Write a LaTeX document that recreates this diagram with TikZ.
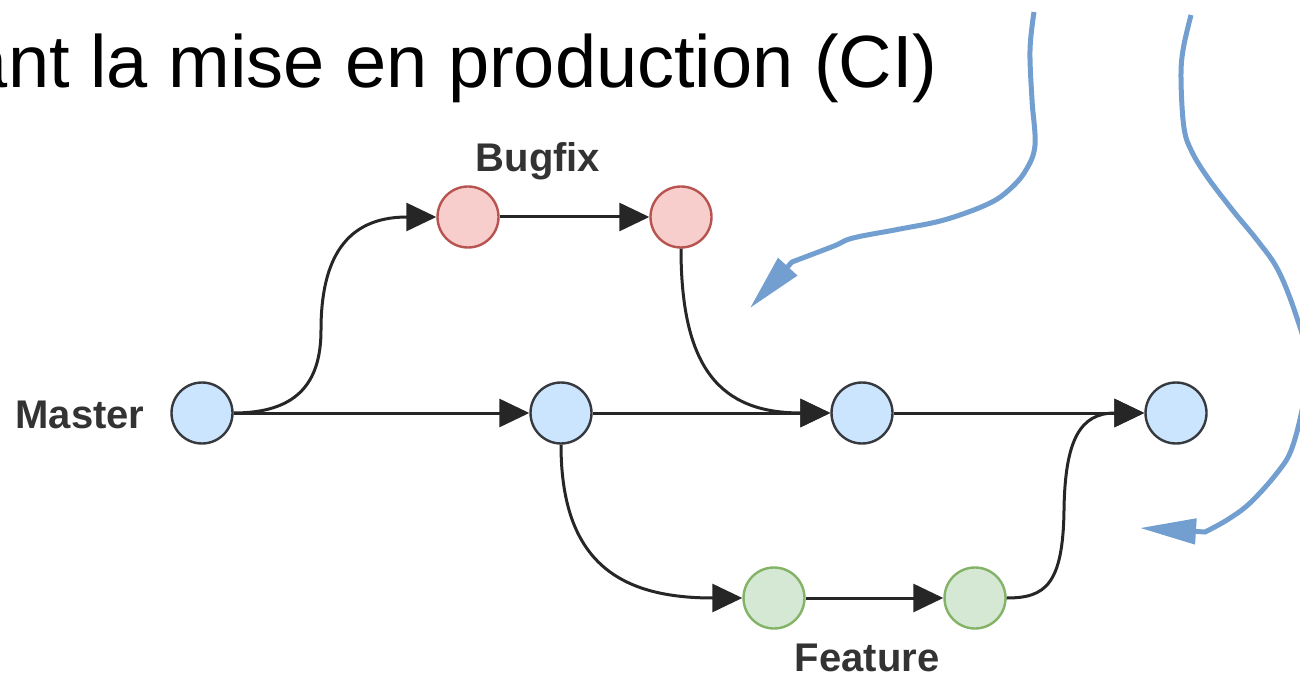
\documentclass[tikz,border=0pt]{standalone}
\usepackage{fontspec}
\setmainfont{Liberation Sans}
\usetikzlibrary{arrows.meta}
\definecolor{masterfill}{HTML}{CCE5FF}
\definecolor{masterline}{HTML}{36393D}
\definecolor{bugfill}{HTML}{F8CECC}
\definecolor{bugline}{HTML}{B85450}
\definecolor{featfill}{HTML}{D5E8D4}
\definecolor{featline}{HTML}{82B366}
\definecolor{remarkblue}{HTML}{729FCF}

\begin{document}
\begin{tikzpicture}[x=0.5pt,y=-0.5pt,
				master/.style={circle,draw=masterline,fill=masterfill,line width=1.2pt,minimum size=30.5pt,inner sep=0pt},
				bugfix/.style={circle,draw=bugline,fill=bugfill,line width=1.2pt,minimum size=30.5pt,inner sep=0pt},
				feature/.style={circle,draw=featline,fill=featfill,line width=1.2pt,minimum size=30.5pt,inner sep=0pt},
				branch/.style={anchor=base,inner sep=0pt,text=black!80,font=\fontsize{20}{24}\selectfont\bfseries},
				flow/.style={-{Triangle[length=15pt,width=14pt]},line width=1.5pt,black!85},
				remark/.style={-{Triangle[length=28pt,width=12.5pt]},line width=2.5pt,remarkblue}]
	\useasboundingbox (0,0) rectangle (1300,678);
	\node[anchor=base east,inner sep=0pt,font=\fontsize{37}{44}\selectfont] (T) at (938,88) {ant la mise en production (CI)};
	\node[master] (M1) at (202,413) {};
	\node[master] (M2) at (561,413) {};
	\node[master] (M3) at (862,413) {};
	\node[master] (M4) at (1176,413) {};
	\node[bugfix] (B1) at (468,217) {};
	\node[bugfix] (B2) at (681,217) {};
	\node[feature] (F1) at (774,598) {};
	\node[feature] (F2) at (975,598) {};
	\node[branch] (LM) at (80,428) {Master};
	\node[branch] (LB) at (538,172) {Bugfix};
	\node[branch] (LF) at (867,671) {Feature};
	\draw[flow] (M1.east) .. controls (295,413) and (321,385) .. (321,330) .. controls (321,260) and (345,217) .. (B1.west);
	\draw[flow] (B1) -- (B2);
	\draw[flow] (M1) -- (M2);
	\draw[flow] (M2) -- (M3);
	\draw[flow] (M3) -- (M4);
	\draw[flow] (B2.south) .. controls +(0,120) and +(-110,0) .. (M3.west);
	\draw[flow] (M2.south) .. controls +(0,120) and +(-120,0) .. (F1.west);
	\draw[flow] (F1) -- (F2);
	\draw[flow] (F2.east) .. controls (1045,598) and (1063,585) .. (1064,510) .. controls (1065,440) and (1080,413) .. (M4.west);
	\coordinate (A1) at (1034,12);
	\coordinate (A1end) at (750,308);
	\coordinate (A2) at (1191,15);
	\coordinate (A2end) at (1140,528);
	\draw[remark] plot[smooth,tension=0.6] coordinates {(A1) (1030,50) (1032,100) (1035,145) (1026,170) (1010,189) (988,204) (944,220) (900,229) (853,238) (834,246) (792,262)} -- (A1end);
	\draw[remark] plot[smooth,tension=0.6] coordinates {(A2) (1183,50) (1181,80) (1184,128) (1192,152) (1208,178) (1234,212) (1257,240) (1278,270) (1296,315) (1308,360) (1304,400) (1292,448) (1277,473) (1250,503) (1227,520) (1205,532)} -- (A2end);
\end{tikzpicture}
\end{document}
